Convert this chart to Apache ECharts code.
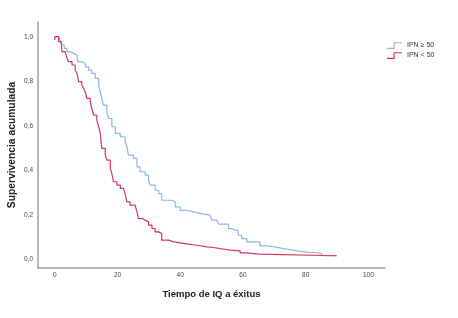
<!DOCTYPE html>
<html>
<head>
<meta charset="utf-8">
<script src="https://cdn.jsdelivr.net/npm/echarts@6/dist/echarts.min.js"></script>
<style>
  html, body { margin: 0; padding: 0; background: #fff; }
  #main { width: 458px; height: 318px; }
</style>
</head>
<body>
<div id="main"></div>
<script>
// group names
var groupNames = ['IPN \u2265 50', 'IPN < 50'];

// IPN >= 50 : time of each step and survival after it
var highTimes = [0, 1.2, 1.75, 2.3, 3.0, 3.9, 4.9, 6.0, 7.1, 7.3, 8.6, 9.7, 10.8, 11.8, 12.9, 14.0, 14.5, 15.0, 15.5, 16.6,
    17.1, 18.2, 19.3, 20.9, 22.4, 23.0, 23.5, 25.1, 26.2, 27.2, 28.8, 29.9, 30.4, 32.0, 33.1, 34.1, 37.3, 38.4, 40.0, 42.1,
    44.2, 46.3, 49.5, 50.1, 51.6, 52.2, 55.4, 56.4, 57.5, 58.5, 59.6, 61.2, 65.4, 67.6, 70.2, 72.9, 76.1, 78.2, 80.8, 84.0,
    85.1, 89.9];
var highSurv = [1.0, 0.993, 0.982, 0.963, 0.948, 0.933, 0.925, 0.918, 0.910, 0.888, 0.880, 0.865, 0.850, 0.835, 0.813, 0.783, 0.753, 0.723, 0.693, 0.663,
    0.633, 0.596, 0.566, 0.551, 0.536, 0.506, 0.469, 0.454, 0.416, 0.394, 0.379, 0.356, 0.334, 0.311, 0.296, 0.266, 0.259, 0.236, 0.221, 0.214,
    0.207, 0.199, 0.192, 0.177, 0.169, 0.159, 0.139, 0.132, 0.129, 0.109, 0.094, 0.079, 0.061, 0.057, 0.049, 0.042, 0.037, 0.033, 0.030, 0.027,
    0.017, 0.017];

// IPN < 50
var lowTimes = [0, 0, 1.2, 2.0, 2.3, 3.3, 3.9, 4.4, 5.5, 6.5, 7.1, 7.6, 8.6, 9.2, 9.7, 10.2, 11.3, 11.8, 12.4, 13.4,
    14.0, 14.5, 15.0, 16.1, 16.6, 17.7, 18.2, 18.7, 19.8, 20.9, 21.9, 22.4, 23.0, 24.0, 25.6, 26.2, 26.7, 27.8, 28.8, 29.9,
    31.0, 32.0, 33.1, 34.1, 36.3, 37.9, 40.0, 42.6, 45.3, 48.5, 50.6, 52.7, 54.8, 55.9, 59.1, 61.2, 64.9, 89.9];
var lowSurv = [0.985, 1.0, 0.978, 0.970, 0.933, 0.925, 0.903, 0.888, 0.873, 0.850, 0.835, 0.798, 0.783, 0.768, 0.753, 0.723, 0.708, 0.678, 0.648, 0.626,
    0.596, 0.566, 0.499, 0.469, 0.446, 0.409, 0.386, 0.349, 0.334, 0.319, 0.311, 0.296, 0.259, 0.244, 0.236, 0.214, 0.184, 0.177, 0.169, 0.154,
    0.139, 0.124, 0.117, 0.087, 0.079, 0.075, 0.069, 0.064, 0.057, 0.054, 0.049, 0.045, 0.042, 0.039, 0.030, 0.024, 0.017, 0.017];

// tick labels
var xTicks = [0, 20, 40, 60, 80, 100];
var yTicks = [0, 0.2, 0.4, 0.6, 0.8, 1];

function zip(a, b) {
    return a.map(function (v, i) { return [v, b[i]]; });
}

var stepIcon = 'path://M0,6 L7,6 L7,0 L16,0 L16,1.2 L8.2,1.2 L8.2,7.2 L0,7.2 Z';
var fontName = 'Liberation Sans, Arial, sans-serif';

var myChart = echarts.init(document.getElementById('main'), null, {renderer: 'canvas'});

option = {
    animation: false,
    backgroundColor: '#fff',
    grid: {
        left: 38,
        right: 73,
        top: 22,
        bottom: 50,
        containLabel: false,
        outerBoundsMode: 'none'
    },
    legend: {
        orient: 'vertical',
        left: 387,
        top: 42,
        padding: 0,
        itemWidth: 15,
        itemHeight: 7,
        itemGap: 3,
        icon: stepIcon,
        textStyle: {fontSize: 7, color: '#333', fontFamily: fontName},
        data: groupNames
    },
    xAxis: {
        type: 'value',
        min: -5.35,
        max: 105.3,
        name: 'Tiempo de IQ a \u00e9xitus',
        nameLocation: 'middle',
        nameGap: 21,
        nameTextStyle: {fontSize: 9.5, fontWeight: 'bold', color: '#222', fontFamily: fontName},
        axisLine: {onZero: false, lineStyle: {color: '#a0a0a0', width: 1.5}},
        axisTick: {show: false},
        splitLine: {show: false},
        axisLabel: {
            customValues: xTicks,
            fontSize: 6.5,
            color: '#444',
            margin: 4,
            fontFamily: fontName
        }
    },
    yAxis: {
        type: 'value',
        min: -0.038,
        max: 1.066,
        name: 'Supervivencia acumulada',
        nameLocation: 'middle',
        nameRotate: 90,
        nameGap: 21,
        nameMoveOverlap: false,
        nameTextStyle: {fontSize: 10.3, fontWeight: 'bold', color: '#222', fontFamily: fontName},
        axisLine: {show: true, onZero: false, lineStyle: {color: '#a0a0a0', width: 1.5}},
        axisTick: {show: false},
        splitLine: {show: false},
        axisLabel: {
            customValues: yTicks,
            fontSize: 6.5,
            color: '#444',
            margin: 5,
            fontFamily: fontName,
            formatter: function (v) { return v.toFixed(1).replace('.', ','); }
        }
    },
    series: [
        {
            name: groupNames[0],
            type: 'line',
            step: 'end',
            showSymbol: false,
            symbol: 'none',
            color: '#8fb6e4',
            lineStyle: {width: 1.2, color: '#8fb6e4'},
            data: zip(highTimes, highSurv)
        },
        {
            name: groupNames[1],
            type: 'line',
            step: 'end',
            showSymbol: false,
            symbol: 'none',
            color: '#d5365f',
            lineStyle: {width: 1.2, color: '#d5365f'},
            data: zip(lowTimes, lowSurv)
        }
    ]
};

myChart.setOption(option);
</script>
</body>
</html>
